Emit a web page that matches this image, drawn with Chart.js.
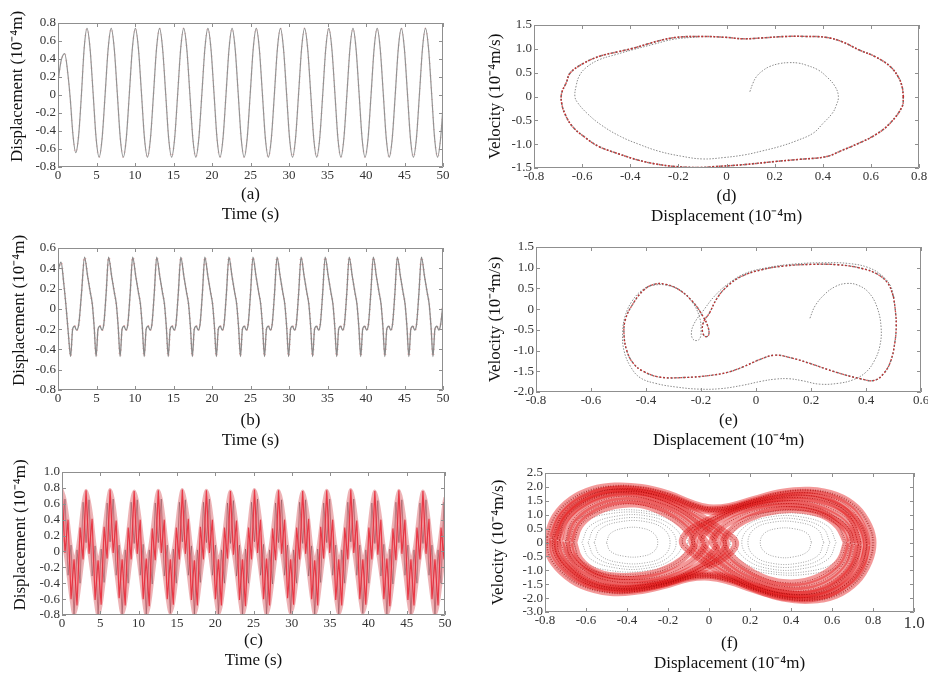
<!DOCTYPE html>
<html>
<head>
<meta charset="utf-8">
<script src="https://cdn.jsdelivr.net/npm/chart.js@4.4.1/dist/chart.umd.min.js"></script>
<style>
html, body { margin: 0; padding: 0; background: #fff; width: 928px; height: 673px; overflow: hidden; }
canvas { position: absolute; }
</style>
</head>
<body>
<canvas id="ca"></canvas>
<canvas id="cb"></canvas>
<canvas id="cc"></canvas>
<canvas id="cd"></canvas>
<canvas id="ce"></canvas>
<canvas id="cf"></canvas>
<script>
// ---- (a) displacement vs time
const aTime = [0, 0.40, 0.87, 1.30, 1.60, 1.95, 2.30, 2.67, 3.04, 3.40,
  3.77, 4.16, 4.56, 4.95, 5.34, 5.73, 6.13, 6.52,
  6.91, 7.30, 7.70, 8.09, 8.48, 8.87, 9.27, 9.66,
  10.05, 10.44, 10.84, 11.23, 11.62, 12.01, 12.41, 12.80,
  13.19, 13.58, 13.98, 14.37, 14.76, 15.15, 15.55, 15.94,
  16.33, 16.72, 17.12, 17.51, 17.90, 18.29, 18.69, 19.08,
  19.47, 19.86, 20.26, 20.65, 21.04, 21.43, 21.83, 22.22,
  22.61, 23.00, 23.40, 23.79, 24.18, 24.57, 24.97, 25.36,
  25.75, 26.14, 26.54, 26.93, 27.32, 27.71, 28.11, 28.50,
  28.89, 29.28, 29.68, 30.07, 30.46, 30.85, 31.25, 31.64,
  32.03, 32.42, 32.82, 33.21, 33.60, 33.99, 34.39, 34.78,
  35.17, 35.56, 35.96, 36.35, 36.74, 37.13, 37.53, 37.92,
  38.31, 38.70, 39.10, 39.49, 39.88, 40.27, 40.67, 41.06,
  41.45, 41.84, 42.24, 42.63, 43.02, 43.41, 43.81, 44.20,
  44.59, 44.98, 45.38, 45.77, 46.16, 46.55, 46.95, 47.34,
  47.73, 48.12, 48.52, 48.91, 49.30, 49.69, 50.00];
const aDisp = [0.15, 0.38, 0.46, 0.22, -0.05, -0.45, -0.64, -0.46, 0.00, 0.52,
  0.74, 0.52, 0.02, -0.48, -0.69, -0.48, 0.02, 0.52,
  0.74, 0.52, 0.02, -0.48, -0.69, -0.48, 0.02, 0.52,
  0.74, 0.52, 0.02, -0.48, -0.69, -0.48, 0.02, 0.52,
  0.74, 0.52, 0.02, -0.48, -0.69, -0.48, 0.02, 0.52,
  0.74, 0.52, 0.02, -0.48, -0.69, -0.48, 0.02, 0.52,
  0.74, 0.52, 0.02, -0.48, -0.69, -0.48, 0.02, 0.52,
  0.74, 0.52, 0.02, -0.48, -0.69, -0.48, 0.02, 0.52,
  0.74, 0.52, 0.02, -0.48, -0.69, -0.48, 0.02, 0.52,
  0.74, 0.52, 0.02, -0.48, -0.69, -0.48, 0.02, 0.52,
  0.74, 0.52, 0.02, -0.48, -0.69, -0.48, 0.02, 0.52,
  0.74, 0.52, 0.02, -0.48, -0.69, -0.48, 0.02, 0.52,
  0.74, 0.52, 0.02, -0.48, -0.69, -0.48, 0.02, 0.52,
  0.74, 0.52, 0.02, -0.48, -0.69, -0.48, 0.02, 0.52,
  0.74, 0.52, 0.02, -0.48, -0.69, -0.48, 0.02, 0.52,
  0.74, 0.52, 0.02, -0.48, -0.69, -0.48, -0.13];

// ---- (b)
const bTime = [0, 0.40, 0.75, 1.05, 1.35, 1.64, 1.90, 2.15, 2.40, 2.70, 3.05,
  3.45, 3.85, 4.20, 4.45, 4.70, 4.95, 5.20, 5.45, 5.70, 5.95, 6.25,
  6.57, 6.97, 7.32, 7.57, 7.82, 8.07, 8.32, 8.57, 8.82, 9.07, 9.37,
  9.70, 10.10, 10.45, 10.70, 10.95, 11.20, 11.45, 11.70, 11.95, 12.20, 12.50,
  12.82, 13.22, 13.57, 13.82, 14.07, 14.32, 14.57, 14.82, 15.07, 15.32, 15.62,
  15.95, 16.35, 16.70, 16.95, 17.20, 17.45, 17.70, 17.95, 18.20, 18.45, 18.75,
  19.07, 19.47, 19.82, 20.07, 20.32, 20.57, 20.82, 21.07, 21.32, 21.57, 21.87,
  22.20, 22.60, 22.95, 23.20, 23.45, 23.70, 23.95, 24.20, 24.45, 24.70, 25.00,
  25.32, 25.72, 26.07, 26.32, 26.57, 26.82, 27.07, 27.32, 27.57, 27.82, 28.12,
  28.45, 28.85, 29.20, 29.45, 29.70, 29.95, 30.20, 30.45, 30.70, 30.95, 31.25,
  31.57, 31.97, 32.32, 32.57, 32.82, 33.07, 33.32, 33.57, 33.82, 34.07, 34.37,
  34.70, 35.10, 35.45, 35.70, 35.95, 36.20, 36.45, 36.70, 36.95, 37.20, 37.50,
  37.82, 38.22, 38.57, 38.82, 39.07, 39.32, 39.57, 39.82, 40.07, 40.32, 40.62,
  40.95, 41.35, 41.70, 41.95, 42.20, 42.45, 42.70, 42.95, 43.20, 43.45, 43.75,
  44.07, 44.47, 44.82, 45.07, 45.32, 45.57, 45.82, 46.07, 46.32, 46.57, 46.87,
  47.20, 47.60, 47.95, 48.20, 48.45, 48.70, 48.95, 49.20, 49.45, 49.70, 50.00];
const bDisp = [0.38, 0.46, 0.25, 0.02, -0.25, -0.47, -0.20, -0.17, -0.21, -0.15, 0.15,
  0.51, 0.32, 0.16, 0.05, -0.18, -0.47, -0.20, -0.17, -0.21, -0.15, 0.15,
  0.51, 0.32, 0.16, 0.05, -0.18, -0.47, -0.20, -0.17, -0.21, -0.15, 0.15,
  0.51, 0.32, 0.16, 0.05, -0.18, -0.47, -0.20, -0.17, -0.21, -0.15, 0.15,
  0.51, 0.32, 0.16, 0.05, -0.18, -0.47, -0.20, -0.17, -0.21, -0.15, 0.15,
  0.51, 0.32, 0.16, 0.05, -0.18, -0.47, -0.20, -0.17, -0.21, -0.15, 0.15,
  0.51, 0.32, 0.16, 0.05, -0.18, -0.47, -0.20, -0.17, -0.21, -0.15, 0.15,
  0.51, 0.32, 0.16, 0.05, -0.18, -0.47, -0.20, -0.17, -0.21, -0.15, 0.15,
  0.51, 0.32, 0.16, 0.05, -0.18, -0.47, -0.20, -0.17, -0.21, -0.15, 0.15,
  0.51, 0.32, 0.16, 0.05, -0.18, -0.47, -0.20, -0.17, -0.21, -0.15, 0.15,
  0.51, 0.32, 0.16, 0.05, -0.18, -0.47, -0.20, -0.17, -0.21, -0.15, 0.15,
  0.51, 0.32, 0.16, 0.05, -0.18, -0.47, -0.20, -0.17, -0.21, -0.15, 0.15,
  0.51, 0.32, 0.16, 0.05, -0.18, -0.47, -0.20, -0.17, -0.21, -0.15, 0.15,
  0.51, 0.32, 0.16, 0.05, -0.18, -0.47, -0.20, -0.17, -0.21, -0.15, 0.15,
  0.51, 0.32, 0.16, 0.05, -0.18, -0.47, -0.20, -0.17, -0.21, -0.15, 0.15,
  0.51, 0.32, 0.16, 0.05, -0.18, -0.47, -0.20, -0.17, -0.21, -0.15, 0.05];

// ---- (c) upper / lower edge of the dense band
const cTime = [0.00, 0.39, 0.79, 1.18, 1.57, 1.96, 2.36, 2.75,
  3.14, 3.53, 3.93, 4.32, 4.71, 5.11, 5.50, 5.89,
  6.28, 6.68, 7.07, 7.46, 7.85, 8.25, 8.64, 9.03,
  9.42, 9.82, 10.21, 10.60, 11.00, 11.39, 11.78, 12.17,
  12.57, 12.96, 13.35, 13.74, 14.14, 14.53, 14.92, 15.32,
  15.71, 16.10, 16.49, 16.89, 17.28, 17.67, 18.06, 18.46,
  18.85, 19.24, 19.63, 20.03, 20.42, 20.81, 21.21, 21.60,
  21.99, 22.38, 22.78, 23.17, 23.56, 23.95, 24.35, 24.74,
  25.13, 25.53, 25.92, 26.31, 26.70, 27.10, 27.49, 27.88,
  28.27, 28.67, 29.06, 29.45, 29.85, 30.24, 30.63, 31.02,
  31.42, 31.81, 32.20, 32.59, 32.99, 33.38, 33.77, 34.16,
  34.56, 34.95, 35.34, 35.74, 36.13, 36.52, 36.91, 37.31,
  37.70, 38.09, 38.48, 38.88, 39.27, 39.66, 40.06, 40.45,
  40.84, 41.23, 41.63, 42.02, 42.41, 42.80, 43.20, 43.59,
  43.98, 44.37, 44.77, 45.16, 45.55, 45.95, 46.34, 46.73,
  47.12, 47.52, 47.91, 48.30, 48.69, 49.09, 49.48, 49.87, 50.00];
const cUpper = [0.78, 0.66, 0.40, 0.08, -0.10, 0.02, 0.30, 0.62,
  0.77, 0.65, 0.41, 0.07, -0.11, 0.03, 0.31, 0.61,
  0.78, 0.66, 0.39, 0.08, -0.10, 0.02, 0.30, 0.62,
  0.76, 0.65, 0.40, 0.09, -0.09, 0.02, 0.29, 0.61,
  0.77, 0.66, 0.40, 0.08, -0.10, 0.03, 0.30, 0.62,
  0.78, 0.65, 0.41, 0.07, -0.11, 0.02, 0.31, 0.62,
  0.77, 0.66, 0.40, 0.08, -0.10, 0.02, 0.30, 0.61,
  0.76, 0.64, 0.39, 0.08, -0.10, 0.03, 0.30, 0.62,
  0.78, 0.66, 0.40, 0.09, -0.09, 0.02, 0.29, 0.61,
  0.77, 0.65, 0.40, 0.08, -0.10, 0.02, 0.30, 0.62,
  0.76, 0.65, 0.41, 0.07, -0.11, 0.03, 0.31, 0.61,
  0.77, 0.66, 0.40, 0.08, -0.10, 0.02, 0.30, 0.62,
  0.78, 0.66, 0.39, 0.08, -0.10, 0.02, 0.30, 0.61,
  0.76, 0.64, 0.40, 0.09, -0.09, 0.03, 0.29, 0.62,
  0.77, 0.65, 0.40, 0.08, -0.10, 0.02, 0.30, 0.61,
  0.76, 0.65, 0.41, 0.08, -0.10, 0.02, 0.30, 0.62, 0.68];
const cLower = [0.12, -0.02, -0.30, -0.60, -0.80, -0.68, -0.40, -0.10,
  0.11, -0.03, -0.31, -0.61, -0.81, -0.67, -0.39, -0.09,
  0.12, -0.02, -0.30, -0.59, -0.79, -0.68, -0.40, -0.10,
  0.10, -0.03, -0.30, -0.60, -0.80, -0.69, -0.41, -0.11,
  0.11, -0.02, -0.31, -0.60, -0.78, -0.67, -0.40, -0.10,
  0.12, -0.03, -0.30, -0.61, -0.80, -0.68, -0.39, -0.10,
  0.11, -0.02, -0.30, -0.60, -0.79, -0.68, -0.40, -0.09,
  0.10, -0.04, -0.31, -0.61, -0.81, -0.69, -0.40, -0.10,
  0.12, -0.02, -0.30, -0.60, -0.80, -0.68, -0.41, -0.11,
  0.11, -0.03, -0.30, -0.59, -0.78, -0.67, -0.40, -0.10,
  0.10, -0.03, -0.31, -0.60, -0.80, -0.68, -0.39, -0.09,
  0.11, -0.02, -0.30, -0.61, -0.79, -0.68, -0.40, -0.10,
  0.12, -0.02, -0.30, -0.60, -0.78, -0.67, -0.40, -0.10,
  0.10, -0.04, -0.31, -0.60, -0.80, -0.69, -0.41, -0.11,
  0.11, -0.03, -0.30, -0.61, -0.79, -0.68, -0.40, -0.10,
  0.10, -0.03, -0.30, -0.60, -0.80, -0.68, -0.40, -0.10, -0.05];

// ---- (d) phase plane, [displacement, velocity]
const dCycle = [[0.735, 0], [0.73, -0.21], [0.68, -0.56], [0.62, -0.80], [0.55, -0.98], [0.48, -1.13],
  [0.415, -1.26], [0.30, -1.32], [0.21, -1.36], [0.07, -1.43], [-0.05, -1.47], [-0.11, -1.49],
  [-0.21, -1.47], [-0.30, -1.41], [-0.37, -1.33], [-0.45, -1.20], [-0.53, -1.05], [-0.59, -0.85],
  [-0.64, -0.63], [-0.67, -0.38], [-0.685, -0.14], [-0.685, 0.07], [-0.665, 0.30], [-0.65, 0.49],
  [-0.60, 0.68], [-0.53, 0.84], [-0.45, 0.94], [-0.39, 1.01], [-0.28, 1.17], [-0.21, 1.24],
  [-0.10, 1.26], [0.0, 1.24], [0.07, 1.21], [0.15, 1.23], [0.25, 1.26], [0.33, 1.26],
  [0.415, 1.24], [0.48, 1.15], [0.55, 0.98], [0.62, 0.83], [0.68, 0.63], [0.715, 0.40],
  [0.73, 0.20], [0.735, 0]];
const dTransient = [[0.097, 0.10], [0.11, 0.28], [0.125, 0.42], [0.15, 0.54], [0.18, 0.63], [0.22, 0.69],
  [0.26, 0.71], [0.30, 0.70], [0.33, 0.66], [0.38, 0.56], [0.415, 0.42], [0.45, 0.22], [0.465, 0],
  [0.455, -0.20], [0.44, -0.35], [0.40, -0.57], [0.36, -0.77], [0.29, -0.93], [0.22, -1.05],
  [0.15, -1.14], [0.08, -1.22], [-0.01, -1.28], [-0.10, -1.31], [-0.19, -1.25], [-0.28, -1.15],
  [-0.36, -1.01], [-0.44, -0.84], [-0.52, -0.60], [-0.58, -0.35], [-0.62, -0.12], [-0.63, 0.0],
  [-0.625, 0.22], [-0.61, 0.45], [-0.58, 0.62], [-0.53, 0.77], [-0.46, 0.88], [-0.39, 0.98],
  [-0.30, 1.10], [-0.22, 1.20], [-0.12, 1.25]];

// ---- (e)
const eCycle = [[0.50, 0.30], [0.507, -0.05], [0.51, -0.40], [0.505, -0.80], [0.49, -1.25], [0.465, -1.55],
  [0.43, -1.72], [0.38, -1.68], [0.29, -1.52], [0.196, -1.31], [0.13, -1.18], [0.07, -1.11],
  [0.02, -1.20], [-0.046, -1.39], [-0.10, -1.52], [-0.167, -1.60], [-0.26, -1.65], [-0.35, -1.64],
  [-0.41, -1.50], [-0.446, -1.31], [-0.47, -1.00], [-0.48, -0.60], [-0.475, -0.25], [-0.45, 0.10],
  [-0.41, 0.45], [-0.37, 0.60], [-0.33, 0.60], [-0.28, 0.47], [-0.23, 0.18], [-0.195, -0.15],
  [-0.175, -0.42], [-0.172, -0.62], [-0.185, -0.66], [-0.195, -0.52], [-0.19, -0.30], [-0.17, -0.10],
  [-0.14, 0.28], [-0.10, 0.58], [-0.05, 0.80], [0.02, 0.95], [0.10, 1.04], [0.20, 1.08],
  [0.30, 1.07], [0.38, 0.99], [0.44, 0.85], [0.48, 0.62], [0.50, 0.30]];
const eTransient = [[0.196, -0.22], [0.215, 0.08], [0.25, 0.36], [0.29, 0.55], [0.33, 0.62], [0.37, 0.58],
  [0.41, 0.40], [0.44, 0.05], [0.455, -0.45], [0.45, -0.90], [0.43, -1.25], [0.40, -1.52],
  [0.355, -1.70], [0.30, -1.79], [0.23, -1.81], [0.17, -1.73], [0.12, -1.68], [0.07, -1.69],
  [0.02, -1.74], [-0.05, -1.84], [-0.13, -1.92], [-0.21, -1.93], [-0.29, -1.88], [-0.36, -1.80],
  [-0.42, -1.66], [-0.455, -1.40], [-0.48, -1.00], [-0.485, -0.55], [-0.475, -0.15], [-0.45, 0.20],
  [-0.41, 0.48], [-0.37, 0.58], [-0.32, 0.57], [-0.27, 0.42], [-0.23, 0.15], [-0.205, -0.20],
  [-0.20, -0.50], [-0.205, -0.72], [-0.225, -0.75], [-0.235, -0.60], [-0.225, -0.35], [-0.19, -0.02],
  [-0.15, 0.32], [-0.10, 0.62], [-0.04, 0.86], [0.04, 1.00], [0.14, 1.09], [0.25, 1.12],
  [0.34, 1.10], [0.41, 1.00], [0.46, 0.80], [0.49, 0.55], [0.50, 0.30]];

// ---- (f) loops traced from the attractor
const fPeanuts = [
  [[-0.79, 0.2], [-0.75, 0.95], [-0.67, 1.55], [-0.57, 1.9], [-0.46, 2.03], [-0.33, 1.98],
   [-0.2, 1.75], [-0.08, 1.4], [0.0, 1.25], [0.1, 1.3], [0.22, 1.55], [0.35, 1.8], [0.49, 1.88],
   [0.62, 1.7], [0.72, 1.25], [0.78, 0.6], [0.80, 0.0], [0.78, -0.7], [0.72, -1.4], [0.62, -1.9],
   [0.49, -2.08], [0.36, -2.0], [0.22, -1.7], [0.1, -1.4], [0.0, -1.25], [-0.1, -1.3], [-0.22, -1.55],
   [-0.35, -1.75], [-0.48, -1.8], [-0.62, -1.55], [-0.72, -1.05], [-0.78, -0.45], [-0.79, 0.2]],
  [[-0.765, 0.18], [-0.725, 0.9], [-0.645, 1.48], [-0.545, 1.81], [-0.44, 1.93], [-0.315, 1.88],
   [-0.19, 1.65], [-0.075, 1.32], [0.0, 1.18], [0.095, 1.23], [0.21, 1.47], [0.34, 1.71], [0.475, 1.79],
   [0.60, 1.61], [0.695, 1.18], [0.75, 0.55], [0.77, -0.02], [0.75, -0.68], [0.69, -1.34], [0.595, -1.81],
   [0.47, -1.98], [0.345, -1.9], [0.21, -1.61], [0.095, -1.32], [0.0, -1.18], [-0.095, -1.24], [-0.21, -1.48],
   [-0.34, -1.68], [-0.465, -1.72], [-0.60, -1.48], [-0.695, -1.0], [-0.755, -0.42], [-0.765, 0.18]],
  [[-0.74, 0.15], [-0.70, 0.85], [-0.62, 1.40], [-0.52, 1.72], [-0.42, 1.83], [-0.30, 1.78],
   [-0.18, 1.55], [-0.07, 1.25], [0.0, 1.12], [0.09, 1.17], [0.2, 1.4], [0.33, 1.62], [0.46, 1.70],
   [0.58, 1.52], [0.67, 1.1], [0.72, 0.5], [0.74, -0.05], [0.72, -0.65], [0.66, -1.28], [0.57, -1.72],
   [0.45, -1.88], [0.33, -1.8], [0.2, -1.52], [0.09, -1.25], [0.0, -1.12], [-0.09, -1.18], [-0.2, -1.42],
   [-0.33, -1.6], [-0.45, -1.64], [-0.58, -1.42], [-0.67, -0.95], [-0.73, -0.4], [-0.74, 0.15]]];
const fLeftLoops = [
  [[-0.76, 0.1], [-0.72, 0.9], [-0.63, 1.5], [-0.52, 1.85], [-0.40, 1.9], [-0.27, 1.72], [-0.14, 1.35],
   [-0.02, 0.85], [0.08, 0.35], [0.13, 0.0], [0.1, -0.4], [0.0, -0.85], [-0.12, -1.25], [-0.26, -1.55],
   [-0.42, -1.68], [-0.57, -1.5], [-0.68, -1.0], [-0.74, -0.45], [-0.76, 0.1]],
  [[-0.73, 0.08], [-0.70, 0.82], [-0.61, 1.39], [-0.50, 1.72], [-0.38, 1.78], [-0.26, 1.59], [-0.14, 1.22],
   [-0.04, 0.72], [0.05, 0.28], [0.085, -0.05], [0.05, -0.45], [-0.04, -0.9], [-0.16, -1.28], [-0.30, -1.50],
   [-0.46, -1.56], [-0.60, -1.22], [-0.68, -0.72], [-0.73, 0.08]],
  [[-0.70, 0.05], [-0.67, 0.75], [-0.59, 1.28], [-0.48, 1.6], [-0.37, 1.65], [-0.25, 1.45], [-0.14, 1.1],
   [-0.05, 0.6], [0.02, 0.2], [0.04, -0.1], [0.0, -0.5], [-0.08, -0.95], [-0.2, -1.3], [-0.35, -1.45],
   [-0.50, -1.35], [-0.62, -0.95], [-0.68, -0.45], [-0.70, 0.05]],
  [[-0.68, 0.02], [-0.65, 0.68], [-0.575, 1.16], [-0.47, 1.46], [-0.365, 1.5], [-0.255, 1.32], [-0.155, 0.97],
   [-0.075, 0.5], [-0.025, 0.1], [-0.015, -0.05], [-0.05, -0.45], [-0.125, -0.88], [-0.24, -1.21], [-0.385, -1.33],
   [-0.525, -1.2], [-0.625, -0.78], [-0.67, -0.38], [-0.68, 0.02]],
  [[-0.66, 0.0], [-0.63, 0.6], [-0.56, 1.05], [-0.46, 1.33], [-0.36, 1.38], [-0.26, 1.2], [-0.17, 0.85],
   [-0.1, 0.4], [-0.07, 0.0], [-0.1, -0.4], [-0.17, -0.8], [-0.28, -1.12], [-0.42, -1.22], [-0.55, -1.05],
   [-0.63, -0.6], [-0.66, 0.0]]];
const fRightLoops = [
  [[0.77, -0.1], [0.74, -0.95], [0.65, -1.6], [0.53, -1.98], [0.40, -2.0], [0.27, -1.8], [0.14, -1.4],
   [0.02, -0.9], [-0.08, -0.38], [-0.13, 0.0], [-0.1, 0.4], [0.0, 0.82], [0.12, 1.2], [0.27, 1.5],
   [0.43, 1.62], [0.58, 1.45], [0.69, 1.0], [0.75, 0.45], [0.77, -0.1]],
  [[0.73, -0.08], [0.70, -0.85], [0.62, -1.45], [0.51, -1.82], [0.39, -1.85], [0.26, -1.65], [0.14, -1.26],
   [0.04, -0.76], [-0.05, -0.28], [-0.085, 0.05], [-0.05, 0.45], [0.04, 0.88], [0.16, 1.24], [0.31, 1.46],
   [0.47, 1.48], [0.60, 1.2], [0.69, 0.72], [0.73, -0.08]],
  [[0.71, -0.05], [0.68, -0.8], [0.60, -1.38], [0.49, -1.7], [0.37, -1.72], [0.25, -1.5], [0.14, -1.12],
   [0.05, -0.62], [-0.02, -0.2], [-0.04, 0.1], [0.0, 0.5], [0.08, 0.92], [0.2, 1.25], [0.35, 1.4],
   [0.50, 1.3], [0.62, 0.92], [0.69, 0.42], [0.71, -0.05]],
  [[0.69, -0.02], [0.66, -0.7], [0.585, -1.24], [0.48, -1.55], [0.365, -1.58], [0.255, -1.38], [0.155, -1.0],
   [0.075, -0.52], [0.025, -0.1], [0.015, 0.05], [0.05, 0.45], [0.125, 0.85], [0.24, 1.16], [0.385, 1.29],
   [0.525, 1.15], [0.625, 0.75], [0.68, 0.36], [0.69, -0.02]],
  [[0.67, 0.0], [0.64, -0.62], [0.57, -1.1], [0.47, -1.4], [0.36, -1.44], [0.26, -1.25], [0.17, -0.88],
   [0.10, -0.42], [0.07, 0.0], [0.1, 0.4], [0.17, 0.78], [0.28, 1.08], [0.42, 1.18], [0.55, 1.0],
   [0.63, 0.58], [0.67, 0.0]]];
const fGrayOvals = [
  [[-0.70, 0], [-0.66, 0.75], [-0.5, 1.12], [-0.3, 1.12], [-0.14, 0.75], [-0.08, 0], [-0.14, -0.75], [-0.3, -1.1], [-0.5, -1.1], [-0.66, -0.74], [-0.70, 0]],
  [[-0.66, 0], [-0.62, 0.68], [-0.48, 1.04], [-0.3, 1.04], [-0.16, 0.68], [-0.105, 0], [-0.16, -0.68], [-0.3, -1.01], [-0.48, -1.01], [-0.62, -0.66], [-0.66, 0]],
  [[-0.62, 0], [-0.58, 0.6], [-0.45, 0.95], [-0.3, 0.95], [-0.18, 0.6], [-0.13, 0], [-0.18, -0.6], [-0.3, -0.92], [-0.45, -0.92], [-0.58, -0.58], [-0.62, 0]],
  [[-0.59, 0], [-0.555, 0.54], [-0.44, 0.85], [-0.305, 0.85], [-0.2, 0.54], [-0.16, 0], [-0.2, -0.54], [-0.305, -0.83], [-0.44, -0.83], [-0.555, -0.52], [-0.59, 0]],
  [[-0.56, 0], [-0.53, 0.48], [-0.43, 0.75], [-0.31, 0.75], [-0.22, 0.48], [-0.19, 0], [-0.22, -0.48], [-0.31, -0.73], [-0.43, -0.73], [-0.53, -0.47], [-0.56, 0]],
  [[-0.50, 0], [-0.48, 0.33], [-0.41, 0.52], [-0.33, 0.52], [-0.27, 0.33], [-0.25, 0], [-0.27, -0.33], [-0.33, -0.5], [-0.41, -0.5], [-0.48, -0.32], [-0.50, 0]],
  [[0.70, 0], [0.66, -0.75], [0.5, -1.12], [0.3, -1.12], [0.14, -0.75], [0.08, 0], [0.14, 0.75], [0.3, 1.1], [0.5, 1.1], [0.66, 0.74], [0.70, 0]],
  [[0.66, 0], [0.62, -0.68], [0.48, -1.04], [0.3, -1.04], [0.16, -0.68], [0.105, 0], [0.16, 0.68], [0.3, 1.01], [0.48, 1.01], [0.62, 0.66], [0.66, 0]],
  [[0.62, 0], [0.58, -0.6], [0.45, -0.95], [0.3, -0.95], [0.18, -0.6], [0.13, 0], [0.18, 0.6], [0.3, 0.92], [0.45, 0.92], [0.58, 0.58], [0.62, 0]],
  [[0.59, 0], [0.555, -0.54], [0.44, -0.85], [0.305, -0.85], [0.2, -0.54], [0.16, 0], [0.2, 0.54], [0.305, 0.83], [0.44, 0.83], [0.555, 0.52], [0.59, 0]],
  [[0.56, 0], [0.53, -0.48], [0.43, -0.75], [0.31, -0.75], [0.22, -0.48], [0.19, 0], [0.22, 0.48], [0.31, 0.73], [0.43, 0.73], [0.53, 0.47], [0.56, 0]],
  [[0.50, 0], [0.48, -0.33], [0.41, -0.52], [0.33, -0.52], [0.27, -0.33], [0.25, 0], [0.27, 0.33], [0.33, 0.5], [0.41, 0.5], [0.48, 0.32], [0.50, 0]]];

// ---- drawing
const SERIF = "'Liberation Serif', 'Times New Roman', serif";
const num1 = v => Math.abs(v) < 1e-9 ? '0' : v.toFixed(1);
const num0 = v => String(Math.round(v));
const pts = (xs, ys) => xs.map((x, i) => ({x: x, y: ys[i]}));
const pairs = p => p.map(q => ({x: q[0], y: q[1]}));

// box with inward ticks on all four sides
const frame = {
  id: 'frame',
  afterDatasetsDraw(chart) {
    const ctx = chart.ctx, a = chart.chartArea, sx = chart.scales.x, sy = chart.scales.y;
    ctx.save();
    ctx.strokeStyle = '#8f8f8f';
    ctx.lineWidth = 1;
    ctx.beginPath();
    ctx.rect(Math.round(a.left) + 0.5, Math.round(a.top) + 0.5, Math.round(a.width) - 1, Math.round(a.height) - 1);
    sx.ticks.forEach(t => {
      const p = Math.round(sx.getPixelForValue(t.value)) + 0.5;
      ctx.moveTo(p, a.bottom); ctx.lineTo(p, a.bottom - 4);
      ctx.moveTo(p, a.top); ctx.lineTo(p, a.top + 4);
    });
    sy.ticks.forEach(t => {
      const p = Math.round(sy.getPixelForValue(t.value)) + 0.5;
      ctx.moveTo(a.left, p); ctx.lineTo(a.left + 4, p);
      ctx.moveTo(a.right, p); ctx.lineTo(a.right - 4, p);
    });
    ctx.stroke();
    ctx.restore();
  }
};

function line(data, color, width, dash, extra) {
  return Object.assign({data: data, borderColor: color, borderWidth: width, borderDash: dash || [],
    pointRadius: 0, fill: false, tension: 0.4}, extra || {});
}

// box = [left, top, width, height] of the canvas, area = [left, top, right, bottom] of the plot
function panel(id, box, area, cfg) {
  const cv = document.getElementById(id);
  cv.width = box[2];
  cv.height = box[3];
  cv.style.left = box[0] + 'px';
  cv.style.top = box[1] + 'px';
  const yw = area[0] - box[0];
  const xh = box[1] + box[3] - area[3];
  const titleFont = {family: SERIF, size: 17, lineHeight: 1.15};
  return new Chart(cv, {
    type: 'line',
    data: {datasets: cfg.datasets},
    options: {
      responsive: false,
      animation: false,
      devicePixelRatio: 1,
      layout: {padding: {left: 0, top: area[1] - box[1], right: box[0] + box[2] - area[2], bottom: 0}},
      plugins: {legend: {display: false}, tooltip: {enabled: false}},
      elements: {point: {radius: 0}},
      scales: {
        x: {
          type: 'linear', min: cfg.x[0], max: cfg.x[1],
          afterFit: s => { s.height = xh; },
          grid: {display: false, drawTicks: false}, border: {display: false},
          ticks: {stepSize: cfg.x[2], autoSkip: false, maxRotation: 0, padding: 1, color: '#333',
            font: cfg.xFont || {family: SERIF, size: 13}, callback: cfg.xFmt},
          title: {display: true, text: cfg.xTitle, color: '#111', font: titleFont, padding: {top: 0, bottom: 0}}
        },
        y: {
          type: 'linear', min: cfg.y[0], max: cfg.y[1],
          afterFit: s => { s.width = yw; },
          grid: {display: false, drawTicks: false}, border: {display: false},
          ticks: {stepSize: cfg.y[2], autoSkip: false, padding: 2, color: '#333',
            font: {family: SERIF, size: 13}, callback: cfg.yFmt || num1},
          title: {display: true, text: cfg.yTitle, color: '#111', font: titleFont, padding: {top: cfg.yPad, bottom: 0}}
        }
      }
    },
    plugins: [frame]
  });
}

const dispTitle = 'Displacement (10\u207B\u2074m)';
const dispTitleUp = '    ' + dispTitle;
const velTitle = 'Velocity (10\u207B\u2074m/s)';

panel('ca', [0, 0, 460, 224], [58, 23, 443, 167], {
  x: [0, 50, 5], y: [-0.8, 0.8, 0.2], xFmt: num0, yPad: 8,
  xTitle: ['(a)', 'Time (s)'], yTitle: dispTitleUp,
  datasets: [
    line(pts(aTime, aDisp), '#939393', 1.2, [], {cubicInterpolationMode: 'monotone'}),
    line(pts(aTime, aDisp), 'rgba(230,80,80,0.3)', 2, [1, 5], {cubicInterpolationMode: 'monotone'})
  ]
});

panel('cb', [0, 228, 460, 222], [58, 248, 443, 390], {
  x: [0, 50, 5], y: [-0.8, 0.6, 0.2], xFmt: num0, yPad: 10,
  xTitle: ['(b)', 'Time (s)'], yTitle: dispTitleUp,
  datasets: [
    line(pts(bTime, bDisp), '#8a8a8a', 1.3, [], {cubicInterpolationMode: 'monotone'}),
    line(pts(bTime, bDisp), 'rgba(230,70,70,0.5)', 2, [1, 4], {cubicInterpolationMode: 'monotone'})
  ]
});

const cZigA = cTime.map((t, i) => ({x: t, y: i % 2 ? cLower[i] : cUpper[i]}));
const cZigB = cTime.map((t, i) => ({x: t, y: i % 2 ? cUpper[i] : cLower[i]}));
panel('cc', [0, 452, 460, 218], [62, 472, 445, 615], {
  x: [0, 50, 5], y: [-0.8, 1.0, 0.2], xFmt: num0, yPad: 11,
  xTitle: ['(c)', 'Time (s)'], yTitle: dispTitleUp,
  datasets: [
    line(cZigA, 'rgba(232,45,60,0.9)', 1.2, [], {tension: 0}),
    line(cZigB, 'rgba(120,60,70,0.55)', 0.8, [], {tension: 0}),
    line(pts(cTime, cUpper), 'rgba(236,175,178,0.95)', 3, [], {cubicInterpolationMode: 'monotone'}),
    line(pts(cTime, cLower), 'rgba(236,175,178,0.95)', 3, [], {cubicInterpolationMode: 'monotone',
      fill: '-1', backgroundColor: 'rgba(240,105,115,0.7)'})
  ]
});

panel('cd', [470, 0, 465, 226], [534, 25, 919, 168], {
  x: [-0.8, 0.8, 0.2], y: [-1.5, 1.5, 0.5], xFmt: num1, yPad: 16,
  xTitle: ['(d)', dispTitle], yTitle: velTitle,
  datasets: [
    line(pairs(dCycle), 'rgba(215,30,30,0.85)', 1.4, [1.5, 1.5]),
    line(pairs(dCycle), '#6e6e6e', 1.6, [2, 2]),
    line(pairs(dTransient), '#8a8a8a', 1, [1.5, 1.5])
  ]
});

panel('ce', [470, 228, 465, 222], [536, 247, 921, 392], {
  x: [-0.8, 0.6, 0.2], y: [-2.0, 1.5, 0.5], xFmt: num1, yPad: 16,
  xTitle: ['(e)', dispTitle], yTitle: velTitle,
  datasets: [
    line(pairs(eCycle), 'rgba(215,30,30,0.85)', 1.3, [1.5, 2]),
    line(pairs(eCycle), '#6e6e6e', 1.4, [2, 2]),
    line(pairs(eTransient), '#8a8a8a', 1, [1.5, 1.5])
  ]
});

const fRed = fLeftLoops.concat(fRightLoops, fPeanuts);
const fSets = [];
fRed.forEach(p => fSets.push(line(pairs(p), 'rgba(160,0,0,0.65)', 1, [1, 1.5])));
fRed.forEach(p => fSets.push(line(pairs(p), 'rgba(228,28,28,0.45)', 7, [])));
fGrayOvals.forEach(p => fSets.push(line(pairs(p), 'rgba(125,125,125,0.7)', 1, [1, 1.5])));
fSets.push(line(pairs(fPeanuts[0]), 'rgba(150,150,150,0.55)', 3, [1, 1.5]));

panel('cf', [470, 452, 465, 221], [545, 473, 914, 612], {
  x: [-0.8, 1.0, 0.2], y: [-2.5, 2.5, 0.5], xFmt: num1, yPad: 19,
  xFont: ctx => ({family: SERIF, size: ctx.tick && ctx.tick.value > 0.95 ? 17 : 13}),
  yFmt: v => v < -2.4 ? '-3.0' : num1(v),
  xTitle: ['(f)', dispTitle], yTitle: velTitle,
  datasets: fSets
});
</script>
</body>
</html>
